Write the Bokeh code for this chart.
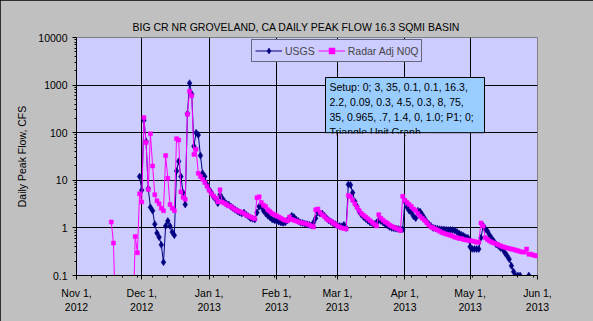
import pandas as pd
from bokeh.plotting import figure
from bokeh.models import (Range1d, FixedTicker, Legend, LegendItem, BoxAnnotation,
                          Label, ColumnDataSource)
from bokeh.embed import file_html
from bokeh.resources import INLINE

# ---------------- data ----------------
TITLE = "BIG CR  NR GROVELAND, CA DAILY PEAK FLOW 16.3 SQMI BASIN"
Y_LABEL = "Daily Peak Flow, CFS"

x_tick_dates = ["2012-11-01", "2012-12-01", "2013-01-01", "2013-02-01",
                "2013-03-01", "2013-04-01", "2013-05-01", "2013-06-01"]
x_tick_labels = ["Nov 1,\n2012", "Dec 1,\n2012", "Jan 1,\n2013", "Feb 1,\n2013",
                 "Mar 1,\n2013", "Apr 1,\n2013", "May 1,\n2013", "Jun 1,\n2013"]
y_ticks = [0.1, 1, 10, 100, 1000, 10000]
y_tick_labels = ["0.1", "1", "10", "100", "1000", "10000"]

series_names = ["USGS", "Radar Adj N0Q"]

# USGS daily peak flow (cfs), daily from this date
usgs_start = "2012-11-30"
usgs_cfs = [
    12, 6.2, 183, 65, 6.7, 2.7, 2.3, 1.2, 0.78, 0.64,
    0.44, 0.19, 1.1, 1.4, 1.1, 0.82, 0.7, 15.6, 25, 12,
    5.5, 3.1, 250, 1100, 650, 52, 100, 90, 33, 14,
    12, 8.2, 6.4, 5.5, 4.5, 4.0, 3.3, 5.0, 4.2, 3.6,
    3.2, 3.1, 2.8, 2.6, 2.4, 2.25, 2.1, 2.0, 2.1, 1.9,
    1.75, 1.6, 1.55, 1.5, 2.1, 2.8, 2.8, 2.3, 2.0, 1.8,
    1.65, 1.5, 1.45, 1.4, 1.35, 1.3, 1.27, 1.3, 1.45, 1.6,
    1.8, 1.7, 1.5, 1.4, 1.3, 1.27, 1.22, 1.2, 1.16, 1.12,
    1.3, 1.6, 2.1, 2.0, 2.0, 1.8, 1.6, 1.45, 1.35, 1.25,
    1.2, 1.12, 1.1, 1.08, 1.16, 1.0, 8.2, 8.0, 5.5, 3.6,
    2.8, 2.2, 1.9, 1.7, 1.55, 1.42, 1.3, 1.25, 1.2, 1.3,
    1.45, 1.4, 1.3, 1.2, 1.12, 1.05, 1.0, 0.98, 0.96, 0.95,
    0.93, 0.93, 3.6, 2.7, 2.3, 2.1, 1.75, 1.6, 2.3, 2.2,
    1.9, 1.6, 1.35, 1.2, 1.1, 1.0, 0.98, 0.96, 0.94, 0.93,
    0.92, 0.91, 0.9, 0.9, 0.9, 0.88, 0.82, 0.76, 0.72, 0.68,
    0.64, 0.62, 0.4, 0.36, 0.36, 0.36, 0.36, 0.62, 1.1, 0.95,
    0.85, 0.7, 0.6, 0.52, 0.45, 0.42, 0.38, 0.36, 0.3, 0.26,
    0.22, 0.16, 0.12, 0.1, 0.1, 0.1, None, None, None, 0.1,
]

# Radar-adjusted model peak flow (cfs); 0.01 = below the axis minimum
radar_start = "2012-11-17"
radar_cfs = [
    1.33, 0.48, 0.01, 0.01, 0.01, 0.01, 0.01, 0.01, 0.01, 0.01, 0.01,
    0.66, 0.3, 5.2, 3.5, 208, 62, 6.4, 95, 20, 5.0,
    3.7, 3.2, 2.6, 2.3, 33, 11, 3.1, 2.6, 2.3, 75,
    70, 5.7, 4.4, 4.0, 245, 740, 600, 35, 45, 14,
    12, 10.5, 9.0, 7.5, 6.2, 5.3, 4.7, 4.2, 3.5, 6.3,
    3.5, 3.3, 3.1, 2.9, 2.8, 2.6, 2.4, 2.3, 2.2, 2.1,
    2.0, 1.86, 1.78, 1.7, 1.62, 1.55, 4.3, 4.5, 3.4, 3.0,
    2.8, 2.4, 2.2, 2.0, 1.9, 1.8, 1.7, 1.6, 1.5, 1.45,
    1.4, 1.7, 1.5, 1.45, 1.4, 1.35, 1.3, 1.27, 1.24, 1.2,
    1.16, 1.1, 1.05, 2.4, 2.5, 2.1, 1.9, 1.75, 1.55, 1.45,
    1.38, 1.27, 1.2, 1.1, 1.05, 1.0, 0.97, 0.95, 4.8, 4.5,
    3.8, 3.2, 2.7, 2.3, 2.0, 1.85, 1.7, 1.55, 1.42, 1.3,
    1.2, 1.1, 1.9, 1.6, 1.45, 1.33, 1.25, 1.15, 1.08, 1.02,
    0.98, 0.94, 0.88, 4.6, 3.8, 3.4, 3.1, 2.8, 2.5, 2.3,
    2.0, 1.75, 1.6, 1.45, 1.3, 1.15, 1.05, 1.0, 0.95, 0.9,
    0.85, 0.8, 0.77, 0.74, 0.72, 0.7, 0.67, 0.64, 0.62, 0.6,
    0.6, 0.57, 0.56, 0.55, 0.54, 0.53, 0.52, 0.5, 0.5, 1.27,
    1.1, 0.62, 0.57, 0.53, 0.5, 0.48, 0.46, 0.44, 0.42, 0.4,
    0.39, 0.38, 0.37, 0.36, 0.35, 0.34, 0.33, 0.32, 0.31, 0.31,
    0.36, 0.28, 0.28, 0.27, 0.26, 0.26,
]

setup_lines = ["Setup: 0; 3, 35, 0.1, 0.1, 16.3,",
               "2.2, 0.09, 0.3, 4.5, 0.3, 8, 75,",
               "35, 0.965, .7, 1.4, 0, 1.0; P1; 0;",
               "Triangle Unit Graph"]

# ---------------- styling / layout ----------------
FONT = "Liberation Sans"
FS = "10.5px"
W, H = 593, 321
F_LEFT, F_RIGHT, F_TOP, F_BOTTOM = 76, 537, 37, 275


def ms(d):
    return pd.Timestamp(d).value / 1e6


X0, X1 = ms(x_tick_dates[0]), ms(x_tick_dates[-1])


def px_x(px):
    return X0 + (px - F_LEFT) / (F_RIGHT - F_LEFT) * (X1 - X0)


def date_px(d):
    return F_LEFT + (ms(d) - X0) / (X1 - X0) * (F_RIGHT - F_LEFT)


def px_y(py):
    return 10 ** (4 - 5 * (py - F_TOP) / (F_BOTTOM - F_TOP))


usgs_src = ColumnDataSource(dict(
    date=pd.date_range(usgs_start, periods=len(usgs_cfs), freq="D"),
    cfs=pd.Series(usgs_cfs, dtype=float)))
radar_src = ColumnDataSource(dict(
    date=pd.date_range(radar_start, periods=len(radar_cfs), freq="D"),
    cfs=pd.Series(radar_cfs, dtype=float)))

p = figure(width=W, height=H, x_axis_type="datetime", y_axis_type="log",
           x_range=Range1d(X0, X1), y_range=Range1d(y_ticks[0], y_ticks[-1]),
           output_backend="svg", toolbar_location=None,
           min_border_left=F_LEFT, min_border_right=W - F_RIGHT,
           min_border_top=F_TOP, min_border_bottom=H - F_BOTTOM,
           background_fill_color="#CCCCFF", border_fill_color="#C0C0C0",
           outline_line_color="#808080",
           styles={"outline": "2px solid black", "outline-offset": "-2px"})

# title
p.title.text = TITLE
p.title.text_font = FONT
p.title.text_font_size = FS
p.title.text_font_style = "normal"
p.title.text_color = "black"
p.title.align = "left"
p.title.offset = 132 - F_LEFT

# x axis
xt = [ms(d) for d in x_tick_dates]
minor_x = [X0 + i * 7 * 86400000 for i in range(0, 31)]
p.xaxis.ticker = FixedTicker(ticks=xt, minor_ticks=minor_x)
p.xaxis.major_label_overrides = {t: lab for t, lab in zip(xt, x_tick_labels)}
# y axis
minor_y = [m * 10.0 ** e for e in range(-1, 4) for m in range(2, 10)]
p.yaxis.ticker = FixedTicker(ticks=[float(v) for v in y_ticks], minor_ticks=minor_y)
p.yaxis.major_label_overrides = {float(t): lab for t, lab in zip(y_ticks, y_tick_labels)}
p.yaxis.axis_label = Y_LABEL
p.yaxis.axis_label_text_font = FONT
p.yaxis.axis_label_text_font_size = FS
p.yaxis.axis_label_text_font_style = "normal"
p.yaxis.axis_label_text_color = "black"
p.yaxis.axis_label_standoff = 7

for ax in (p.xaxis[0], p.yaxis[0]):
    ax.axis_line_color = "black"
    ax.major_tick_line_color = "black"
    ax.minor_tick_line_color = "black"
    ax.major_tick_in = 0
    ax.major_tick_out = 4
    ax.minor_tick_in = 0
    ax.minor_tick_out = 2
    ax.major_label_text_font = FONT
    ax.major_label_text_font_size = FS
    ax.major_label_text_color = "black"
p.yaxis.major_label_standoff = 5
p.xaxis.major_label_standoff = 7

for g in (p.xgrid[0], p.ygrid[0]):
    g.grid_line_color = "black"
    g.grid_line_width = 1
    g.grid_line_alpha = 1

# series
NAVY, MAGENTA = "#000080", "#FF00FF"
l1 = p.line("date", "cfs", source=usgs_src, color=NAVY, line_width=1)
s1 = p.scatter("date", "cfs", source=usgs_src, marker="diamond", size=7,
               fill_color=NAVY, line_color=NAVY, line_width=0.5)
l2 = p.line("date", "cfs", source=radar_src, color=MAGENTA, line_width=1)
s2 = p.scatter("date", "cfs", source=radar_src, marker="square", size=4,
               fill_color=MAGENTA, line_color=MAGENTA, line_width=0.5)

legend = Legend(items=[LegendItem(label=series_names[0], renderers=[l1, s1]),
                       LegendItem(label=series_names[1], renderers=[l2, s2])],
                orientation="horizontal", location=(251 - F_LEFT, F_BOTTOM - 62),
                border_line_color="black", border_line_width=1,
                background_fill_color="#CCCCFF", background_fill_alpha=1,
                label_text_font=FONT, label_text_font_size=FS,
                glyph_width=27, glyph_height=15, label_height=15,
                label_standoff=3, spacing=3, padding=3, margin=0)
p.add_layout(legend)

# setup text box
p.add_layout(BoxAnnotation(left=px_x(325), right=px_x(484), top=px_y(77), bottom=px_y(132.2),
                           fill_color="#99CCFF", fill_alpha=1,
                           line_color="black", line_width=1, line_alpha=1))
for i, line in enumerate(setup_lines):
    p.add_layout(Label(x=px_x(329), y=px_y(86 + 15 * i), text=line,
                       text_font=FONT, text_font_size=FS, text_color="black",
                       text_baseline="middle", text_align="left"))
# the box clips its last line: mask the part below the box (leaving gridlines visible)
mar_px, apr_px = date_px("2013-03-01"), date_px("2013-04-01")
for a, b in [(325.5, mar_px - 0.8), (mar_px + 0.8, apr_px - 0.8), (apr_px + 0.8, 432)]:
    p.add_layout(BoxAnnotation(left=px_x(a), right=px_x(b), top=px_y(133.2), bottom=px_y(143),
                               fill_color="#CCCCFF", fill_alpha=1, line_color=None))

open("out.html", "w").write(file_html(p, INLINE))
